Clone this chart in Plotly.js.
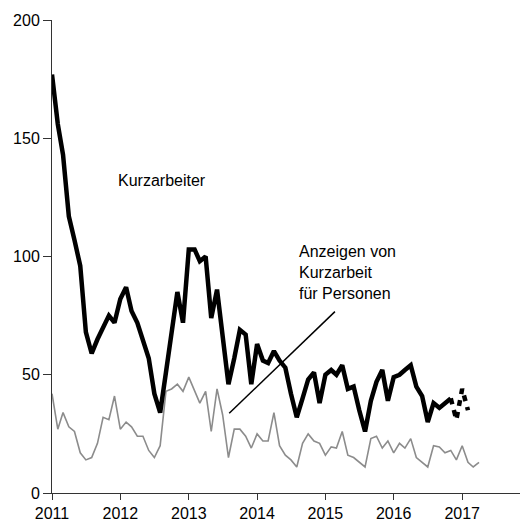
<!DOCTYPE html>
<html>
<head>
<meta charset="utf-8">
<script src="https://cdn.plot.ly/plotly-3.0.1.min.js"></script>
<style>html,body{margin:0;padding:0;background:#fff;}#chart{width:522px;height:521px;}</style>
</head>
<body>
<div id="chart"></div>
<script>
// Monthly data, starting January 2011
const startYear = 2011;
// Kurzarbeiter (solid, Jan 2011 – Nov 2016), thousands
const kurzarbeiter = [
  177, 156, 143, 117, 107, 96, 68, 59, 65, 70, 75, 72,
  82, 87, 77, 72, 65, 57, 42, 34, 51, 69, 85, 72,
  103, 103, 98, 100, 74, 86, 68, 46, 57, 69, 67, 46,
  63, 56, 55, 60, 56, 53, 42, 32, 40, 48, 51, 38,
  50, 52, 50, 54, 44, 45, 35, 26, 39, 47, 52, 39,
  49, 50, 52, 54, 45, 41, 30, 38, 36, 38, 40
];
// Kurzarbeiter, provisional values (dashed, Nov 2016 – Feb 2017)
const kurzarbeiterVorl = [40, 31, 44, 35];
const vorlStartIndex = 70;
// Anzeigen von Kurzarbeit für Personen (Jan 2011 – Apr 2017)
const anzeigen = [
  42, 27, 34, 28, 26, 17, 14, 15, 21, 32, 31, 41,
  27, 30, 28, 24, 24, 18, 15, 20, 43, 44, 46, 43,
  49, 43, 38, 43, 26, 44, 33, 15, 27, 27, 24, 19,
  25, 22, 22, 34, 20, 16, 14, 11, 21, 25, 22, 21,
  16, 19.5, 19, 26, 16, 15, 13, 11, 23, 24, 19, 22,
  17, 21, 19, 23, 15, 13, 11, 20, 19.5, 17, 18, 14,
  20, 13, 11, 13
];
const yTicks = [0, 50, 100, 150, 200];
const xTickYears = ['2011','2012','2013','2014','2015','2016','2017'];

function monthDate(i) {
  const y = startYear + Math.floor(i / 12);
  const m = (i % 12) + 1;
  return y + '-' + (m < 10 ? '0' + m : m) + '-01';
}
const xK = kurzarbeiter.map((v, i) => monthDate(i));
const xV = kurzarbeiterVorl.map((v, i) => monthDate(vorlStartIndex + i));
const xA = anzeigen.map((v, i) => monthDate(i));

const font = {family: 'Liberation Sans, Arial, sans-serif', size: 16, color: '#000'};

const traces = [
  {x: xA, y: anzeigen, type: 'scatter', mode: 'lines',
   line: {color: '#8c8c8c', width: 1.6}, hoverinfo: 'skip'},
  {x: xK, y: kurzarbeiter, type: 'scatter', mode: 'lines',
   line: {color: '#000', width: 4.5}, hoverinfo: 'skip'},
  {x: xV, y: kurzarbeiterVorl, type: 'scatter', mode: 'lines',
   line: {color: '#000', width: 4.5, dash: '6px,6px'}, hoverinfo: 'skip'}
];

const layout = {
  width: 522, height: 521,
  margin: {l: 52, r: 2, t: 20, b: 28},
  paper_bgcolor: '#fff', plot_bgcolor: '#fff',
  showlegend: false,
  font: font,
  xaxis: {
    type: 'date', range: ['2011-01-01', '2017-11-06'],
    tickvals: xTickYears.map(y => y + '-01-01'), ticktext: xTickYears,
    ticks: 'outside', ticklen: 6, tickcolor: '#333', tickwidth: 1,
    showline: true, linecolor: '#333', linewidth: 1,
    showgrid: false, zeroline: false, tickfont: font
  },
  yaxis: {
    range: [0, 200], tickvals: yTicks,
    ticks: 'outside', ticklen: 8, tickcolor: '#333', tickwidth: 1,
    showline: true, linecolor: '#333', linewidth: 1,
    showgrid: false, zeroline: false, tickfont: font
  },
  annotations: [
    {x: '2011-12-08', y: 132.3, xref: 'x', yref: 'y', text: 'Kurzarbeiter',
     showarrow: false, xanchor: 'left', yanchor: 'middle', align: 'left', font: font},
    {x: '2014-08-02', y: 93.4, xref: 'x', yref: 'y',
     text: 'Anzeigen von<br>Kurzarbeit<br>für Personen',
     showarrow: false, xanchor: 'left', yanchor: 'middle', align: 'left', font: font}
  ],
  shapes: [
    {type: 'line', xref: 'x', yref: 'y', x0: '2013-08-05', y0: 33.7, x1: '2015-02-21', y1: 76.7,
     line: {color: '#000', width: 1.5}}
  ]
};

Plotly.newPlot('chart', traces, layout, {staticPlot: true, displayModeBar: false});
</script>
</body>
</html>
